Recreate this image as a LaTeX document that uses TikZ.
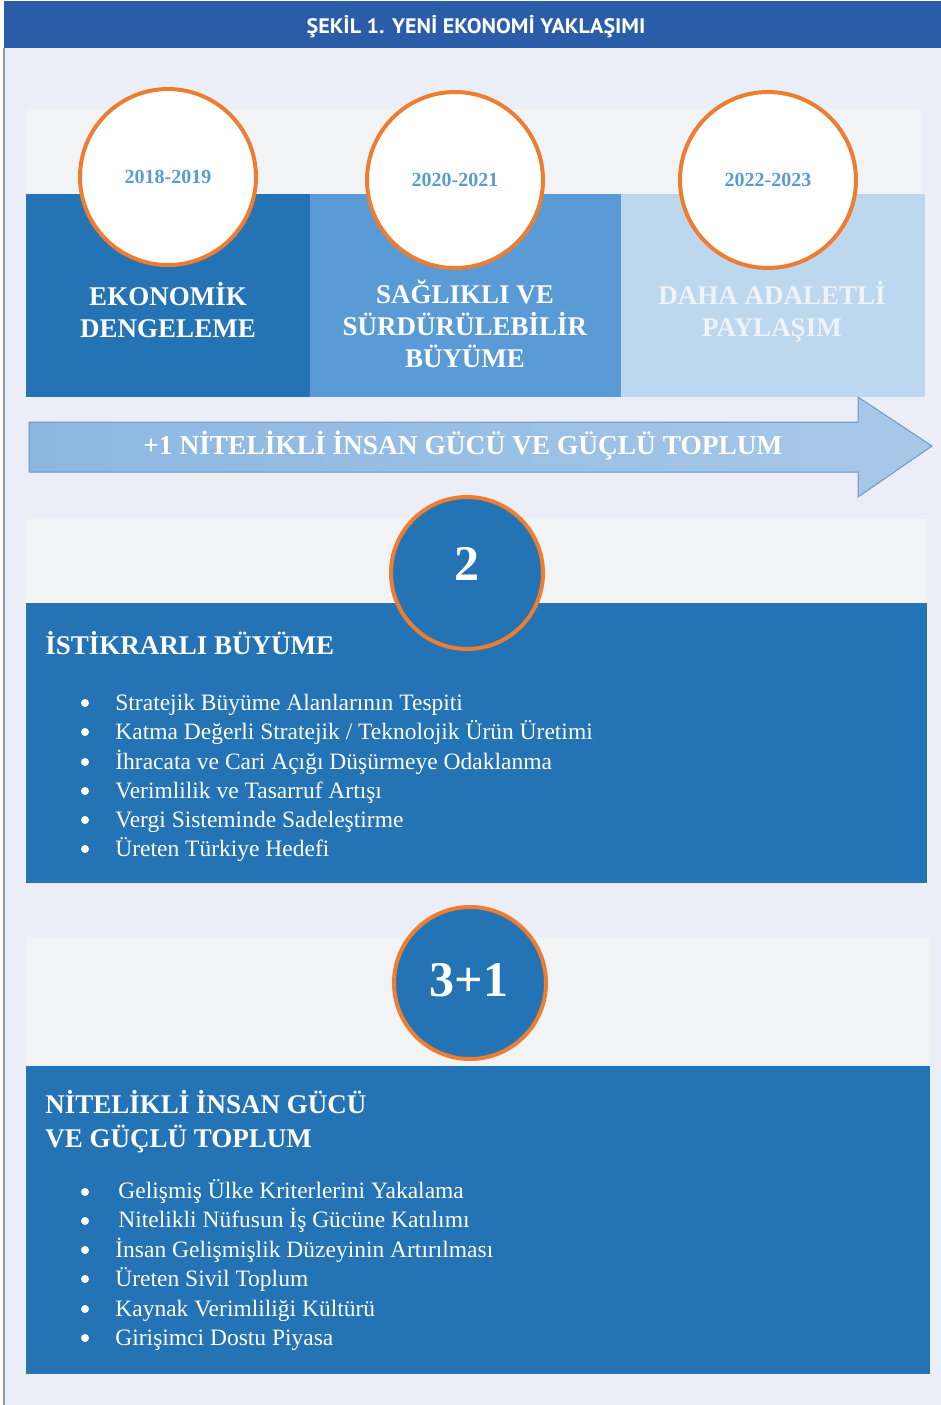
\documentclass[tikz,border=0pt]{standalone}
\usepackage{fontspec}
\setmainfont{Liberation Serif}
\newfontfamily\headfont[FakeStretch=1.05]{PT Sans}
\definecolor{headblue}{HTML}{2A5CA8}
\definecolor{pagebg}{HTML}{EBEEF6}
\definecolor{bandgray}{HTML}{F2F3F5}
\definecolor{darkblue}{HTML}{2473B5}
\definecolor{midblue}{HTML}{5B9BD5}
\definecolor{paleblue}{HTML}{BDD7EE}
\definecolor{faintwhite}{HTML}{EEF4FB}
\definecolor{ringorange}{HTML}{ED7D31}
\definecolor{arrowleft}{HTML}{8BB7E1}
\definecolor{arrowright}{HTML}{A8C8E8}
\definecolor{arrowline}{HTML}{6F97C4}
\definecolor{sideline}{HTML}{8F98B5}

\begin{document}
\begin{tikzpicture}[x=0.5pt,y=-0.5pt,
  yearring/.style={circle,draw=ringorange,line width=2pt,fill=white,minimum size=88pt,inner sep=0pt,
    font=\bfseries\fontsize{10}{12}\selectfont,text=midblue},
  numring/.style={circle,draw=ringorange,line width=2pt,fill=darkblue,minimum size=76pt,inner sep=0pt},
  numtext/.style={font=\bfseries\fontsize{25}{28}\selectfont,text=white,inner sep=0pt},
  boxlabel/.style={font=\bfseries\fontsize{13.5}{16}\selectfont,text=white,align=center,anchor=base,inner sep=0pt},
  heading/.style={font=\bfseries\fontsize{13.5}{17}\selectfont,text=white,anchor=base west,align=left,inner sep=0pt},
  item/.style={font=\fontsize{11.75}{14}\selectfont,text=white,anchor=base west,inner sep=0pt},
  dot/.style={circle,fill=white,minimum size=4pt,inner sep=0pt}]

% page and frame
\useasboundingbox (0,0) rectangle (941,1405);
\fill[white] (0,0) rectangle (941,1405);
\fill[pagebg] (4,48) rectangle (941,1405);
\fill[headblue] (4,1) rectangle (941,48);
\draw[sideline,line width=0.8pt] (4,48) -- (4,1405);
\node[font=\headfont\bfseries\fontsize{10.5}{12}\selectfont,text=white,anchor=base] (title) at (476,33)
  {ŞEKİL 1. YENİ EKONOMİ YAKLAŞIMI};

% periods
\fill[bandgray] (26,109) rectangle (921,194);
\fill[darkblue] (26,194) rectangle (310,397);
\fill[midblue] (310,194) rectangle (621,397);
\fill[paleblue] (621,194) rectangle (925,397);

\node[yearring] (ring1) at (168,177) {2018-2019};
\node[yearring] (ring2) at (455,180) {2020-2021};
\node[yearring] (ring3) at (768,180) {2022-2023};

% anchor base = last line
\node[boxlabel] (goal1) at (168,337) {EKONOMİK\\DENGELEME};
\node[boxlabel] (goal2) at (465,367) {SAĞLIKLI VE\\SÜRDÜRÜLEBİLİR\\BÜYÜME};
\node[boxlabel,text=faintwhite] (goal3) at (772,336) {DAHA ADALETLİ\\PAYLAŞIM};

% arrow
\shade[left color=arrowleft,right color=arrowright,draw=arrowline,line width=0.5pt]
  (29,422) -- (858,422) -- (858,397) -- (932,446) -- (858,497) -- (858,472) -- (29,472) -- cycle;
\node[font=\bfseries\fontsize{13.7}{15}\selectfont,text=white,anchor=base] (arrowtext) at (463,454)
  {+1 NİTELİKLİ İNSAN GÜCÜ VE GÜÇLÜ TOPLUM};

% section 2
\fill[bandgray] (26,519) rectangle (927,603);
\fill[darkblue] (26,603) rectangle (927,883);
\node[numring] (ring4) at (467,573) {};
\node[numtext] (num4) at (467,564) {2};
\node[heading] (head4) at (45,654) {İSTİKRARLI BÜYÜME};

\draw (85,703) node[dot] (d41) {} (115,710) node[item] (i41) {Stratejik Büyüme Alanlarının Tespiti}
      (85,732) node[dot] (d42) {} (115,739) node[item] (i42) {Katma Değerli Stratejik / Teknolojik Ürün Üretimi}
      (85,762) node[dot] (d43) {} (115,769) node[item] (i43) {İhracata ve Cari Açığı Düşürmeye Odaklanma}
      (85,791) node[dot] (d44) {} (115,798) node[item] (i44) {Verimlilik ve Tasarruf Artışı}
      (85,820) node[dot] (d45) {} (115,827) node[item] (i45) {Vergi Sisteminde Sadeleştirme}
      (85,849) node[dot] (d46) {} (115,856) node[item] (i46) {Üreten Türkiye Hedefi};

% section 3+1
\fill[bandgray] (26,937) rectangle (930,1066);
\fill[darkblue] (26,1066) rectangle (930,1374);
\node[numring] (ring5) at (470,983) {};
\node[numtext] (num5) at (469,980) {3+1};
\node[heading] (head5) at (45,1147) {NİTELİKLİ İNSAN GÜCÜ\\VE GÜÇLÜ TOPLUM};

\draw (85,1192) node[dot] (d51) {} (118,1198) node[item] (i51) {Gelişmiş Ülke Kriterlerini Yakalama}
      (85,1221) node[dot] (d52) {} (118,1227) node[item] (i52) {Nitelikli Nüfusun İş Gücüne Katılımı}
      (85,1250) node[dot] (d53) {} (115,1257) node[item] (i53) {İnsan Gelişmişlik Düzeyinin Artırılması}
      (85,1279) node[dot] (d54) {} (115,1286) node[item] (i54) {Üreten Sivil Toplum}
      (85,1309) node[dot] (d55) {} (115,1316) node[item] (i55) {Kaynak Verimliliği Kültürü}
      (85,1338) node[dot] (d56) {} (115,1345) node[item] (i56) {Girişimci Dostu Piyasa};

\end{tikzpicture}
\end{document}
